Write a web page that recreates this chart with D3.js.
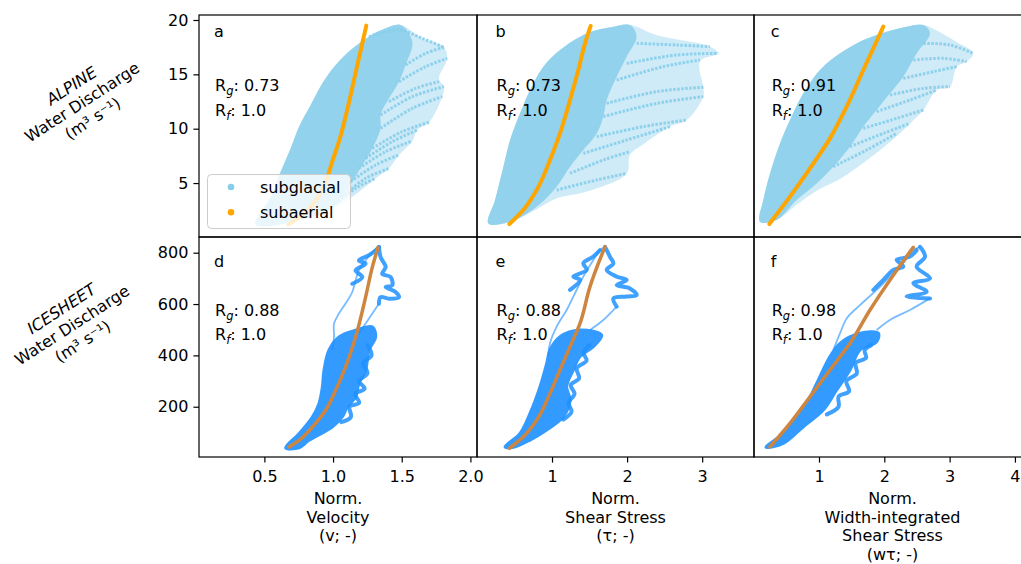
<!DOCTYPE html>
<html>
<head>
<meta charset="utf-8">
<script src="https://cdn.jsdelivr.net/npm/d3@7"></script>
<style>
  body { margin: 0; background: #fff; }
  svg { display: block; font-family: "DejaVu Sans", sans-serif; }
</style>
</head>
<body>
<svg id="chart" width="1021" height="564"></svg>
<script>
// ---- values ----
const panelLetters = ["a", "b", "c", "d", "e", "f"];
const rgValues = ["0.73", "0.73", "0.91", "0.88", "0.88", "0.98"];
const rfValues = ["1.0", "1.0", "1.0", "1.0", "1.0", "1.0"];

const velTicks = [0.5, 1.0, 1.5, 2.0];
const tauTicks = [1, 2, 3];
const wtauTicks = [1, 2, 3, 4];
const alpineTicks = [5, 10, 15, 20];
const iceTicks = [200, 400, 600, 800];

const seriesNames = ["subglacial", "subaerial"];
const rowLabels = [["ALPINE", "Water Discharge", "(m³ s⁻¹)"],
                   ["ICESHEET", "Water Discharge", "(m³ s⁻¹)"]];
const colLabels = [["Norm.", "Velocity", "(v; -)"],
                   ["Norm.", "Shear Stress", "(τ; -)"],
                   ["Norm.", "Width-integrated", "Shear Stress", "(wτ; -)"]];

// ALPINE, velocity (panel a)
const alpineVelCloud = [[0.436,1.20],[0.546,3.75],[0.618,6.05],[0.691,8.19],[0.752,10.19],[0.837,12.18],
  [0.922,14.17],[1.019,15.86],[1.128,17.24],[1.261,18.47],[1.383,19.23],[1.492,19.54],[1.577,18.01],
  [1.528,15.86],[1.480,14.33],[1.407,12.79],[1.346,11.26],[1.346,10.03],[1.286,8.19],[1.213,6.66],
  [1.140,5.13],[1.067,3.75],[0.946,2.37],[0.752,1.60],[0.558,1.08]];
const alpineVelOuter = [[0.436,1.20],[0.546,3.75],[0.618,6.05],[0.691,8.19],[0.752,10.19],[0.837,12.18],
  [0.922,14.17],[1.019,15.86],[1.128,17.24],[1.261,18.47],[1.383,19.23],[1.492,19.54],[1.649,18.31],
  [1.807,17.49],[1.831,16.47],[1.771,14.6],[1.807,13.87],[1.795,12.95],[1.698,10.59],[1.613,9.88],
  [1.577,8.87],[1.480,7.58],[1.407,6.35],[1.310,5.43],[1.140,3.75],[0.994,2.67],[0.752,1.60],[0.558,1.08]];
const alpineVelStreaks = [
  [[1.261,18.47],[1.480,19.08],[1.649,18.31],[1.807,17.49]],
  [[1.528,15.86],[1.674,16.93],[1.807,17.49]],
  [[1.480,14.33],[1.674,15.71],[1.831,16.47]],
  [[1.407,12.49],[1.601,13.71],[1.771,14.33]],
  [[1.346,11.26],[1.577,12.95],[1.807,13.87]],
  [[1.346,10.03],[1.577,11.87],[1.795,12.95]],
  [[1.286,8.19],[1.504,9.73],[1.698,10.59]],
  [[1.237,7.27],[1.431,8.81],[1.613,9.88]],
  [[1.188,6.35],[1.383,7.89],[1.577,8.87]],
  [[1.128,5.13],[1.310,6.66],[1.480,7.58]],
  [[1.067,3.75],[1.237,5.43],[1.407,6.35]],
  [[0.994,2.83],[1.164,4.51],[1.310,5.43]]];
const alpineVelFit = [[0.674,1.20],[0.776,2.06],[0.885,3.59],[0.946,5.13],[0.994,6.97],[1.050,9.11],
  [1.100,11.57],[1.155,14.63],[1.210,17.70],[1.242,19.48]];

// ALPINE, shear stress (panel b)
const alpineTauCloud = [[0.152,1.29],[0.241,3.44],[0.352,6.51],[0.441,8.96],[0.574,11.41],[0.707,13.56],
  [0.884,15.71],[1.106,17.24],[1.373,18.47],[1.595,19.08],[1.817,19.39],[2.038,19.54],[2.127,18.47],
  [1.994,16.63],[1.861,14.79],[1.728,12.64],[1.683,11.11],[1.595,9.57],[1.417,8.04],[1.240,6.51],
  [1.062,4.67],[0.796,2.83],[0.441,1.45]];
const alpineTauOuter = [[0.152,1.29],[0.241,3.44],[0.352,6.51],[0.441,8.96],[0.574,11.41],[0.707,13.56],
  [0.884,15.71],[1.106,17.24],[1.373,18.47],[1.595,19.08],[1.817,19.39],[2.038,19.54],[2.400,18.6],
  [3.104,17.55],[3.215,16.93],[2.971,16.2],[3.015,13.81],[3.015,12.95],[2.793,10.80],[2.571,10.19],
  [2.200,8.5],[2.038,7.6],[1.994,5.89],[1.500,4.3],[1.062,3.6],[0.796,2.6],[0.441,1.45]];
const alpineTauStreaks = [
  [[2.127,17.85],[2.660,17.70],[3.104,17.55]],
  [[1.994,16.01],[2.660,16.78],[3.215,16.93]],
  [[1.861,14.48],[2.482,15.71],[2.971,16.32]],
  [[1.728,12.33],[2.394,13.41],[3.015,13.81]],
  [[1.683,11.11],[2.394,12.33],[3.015,12.95]],
  [[1.595,9.27],[2.216,10.19],[2.793,10.80]],
  [[1.417,7.73],[1.994,8.96],[2.571,10.19]],
  [[1.240,5.89],[1.683,7.12],[2.038,7.89]],
  [[1.062,4.36],[1.595,5.28],[1.994,5.89]]];
const alpineTauFit = [[0.432,1.23],[0.618,2.52],[0.796,4.36],[0.973,7.12],[1.106,9.57],[1.240,12.64],
  [1.350,15.40],[1.440,17.85],[1.515,19.45]];

// ALPINE, width-integrated shear stress (panel c)
const alpineWtauCloud = [[0.096,1.45],[0.147,3.44],[0.250,5.89],[0.403,8.65],[0.556,10.80],[0.760,13.25],
  [1.015,15.40],[1.322,16.93],[1.679,18.16],[2.036,18.93],[2.342,19.39],[2.598,19.54],[2.700,18.77],
  [2.496,16.93],[2.291,14.79],[2.087,13.25],[1.883,11.72],[1.679,10.19],[1.475,8.35],[1.219,6.51],
  [0.964,4.97],[0.658,3.44],[0.351,1.60]];
const alpineWtauOuter = [[0.096,1.45],[0.147,3.44],[0.250,5.89],[0.403,8.65],[0.556,10.80],[0.760,13.25],
  [1.015,15.40],[1.322,16.93],[1.679,18.16],[2.036,18.93],[2.342,19.39],[2.598,19.54],[2.75,19.2],
  [3.100,18.0],[3.363,16.93],[3.261,16.17],[3.108,15.71],[3.006,13.87],[2.802,13.56],[2.598,11.72],
  [2.393,10.49],[2.189,9.3],[1.800,7.4],[1.300,5.3],[0.964,4.3],[0.658,3.0],[0.351,1.60]];
const alpineWtauStreaks = [
  [[2.598,17.85],[3.006,17.70],[3.363,16.93]],
  [[2.444,16.32],[2.904,16.47],[3.261,16.17]],
  [[2.291,14.63],[2.751,15.25],[3.108,15.71]],
  [[2.087,13.10],[2.598,13.71],[3.006,13.87]],
  [[1.883,11.57],[2.393,12.64],[2.802,13.56]],
  [[1.679,10.03],[2.189,10.95],[2.598,11.72]],
  [[1.475,8.35],[1.985,9.57],[2.393,10.49]],
  [[1.219,6.51],[1.730,8.04],[2.189,9.57]]];
const alpineWtauFit = [[0.239,1.23],[0.556,3.75],[0.862,6.35],[1.168,9.11],[1.424,12.03],[1.679,15.40],
  [1.985,19.39]];

// ICESHEET, velocity (panel d)
const iceVelCore = [[0.655,40],[0.752,95],[0.849,160],[0.897,212],[0.922,277],[0.934,342],[0.970,420],
  [1.043,472],[1.164,498],[1.286,511],[1.310,472],[1.261,420],[1.237,342],[1.188,290],[1.164,238],
  [1.104,199],[1.067,160],[0.994,121],[0.825,69],[0.752,40]];
const iceVelLoops = [
  [[1.334,822],[1.346,783],[1.383,744],[1.358,718],[1.419,705],[1.431,673],[1.383,666],[1.455,647],
   [1.480,627],[1.407,621],[1.346,627],[1.334,601]],
  [[1.140,679],[1.213,705],[1.164,731],[1.237,757],[1.188,770],[1.261,790],[1.310,809],[1.334,822]],
  [[1.250,440],[1.280,400],[1.220,370],[1.250,330],[1.190,300],[1.230,270],[1.160,250],[1.190,215],
   [1.120,200],[1.130,160],[1.060,140]]];
const iceVelThin = [
  [[0.994,420],[1.007,472],[1.007,524],[1.043,563],[1.091,602],[1.140,647],[1.164,692],[1.188,731],
   [1.237,770],[1.286,803],[1.334,822]],
  [[1.334,601],[1.286,563],[1.237,524],[1.188,485]]];
const iceVelFit = [[0.679,43],[0.752,69],[0.849,121],[0.946,186],[1.019,264],[1.091,355],[1.164,472],
  [1.237,627],[1.286,744],[1.327,820]];

// ICESHEET, shear stress (panel e)
const iceTauCore = [[0.374,44],[0.574,96],[0.707,174],[0.840,278],[0.929,369],[0.973,421],[1.106,473],
  [1.373,499],[1.661,479],[1.550,434],[1.373,395],[1.284,343],[1.195,278],[1.240,226],[1.151,161],
  [0.929,109],[0.707,70],[0.485,42]];
const iceTauLoops = [
  [[1.706,823],[1.772,784],[1.817,758],[1.728,733],[1.861,707],[1.994,694],[1.861,674],[2.038,661],
   [2.127,635],[1.994,629],[1.817,622],[1.861,590]],
  [[1.240,655],[1.373,694],[1.284,707],[1.462,733],[1.417,759],[1.550,785],[1.639,810]],
  [[1.500,440],[1.420,410],[1.460,380],[1.330,350],[1.360,310],[1.250,285],[1.300,250],[1.220,215],
   [1.260,180],[1.150,150]]];
const iceTauThin = [
  [[0.951,395],[0.973,447],[1.062,512],[1.195,577],[1.284,629],[1.417,707],[1.550,772],[1.639,810],
   [1.706,823]],
  [[1.861,590],[1.683,538],[1.506,499]]];
const iceTauFit = [[0.432,38],[0.618,83],[0.796,148],[0.973,252],[1.106,343],[1.240,434],[1.373,525],
  [1.506,668],[1.617,758],[1.706,823]];

// ICESHEET, width-integrated shear stress (panel f)
const iceWtauCore = [[0.188,42],[0.454,96],[0.760,187],[0.964,291],[1.168,395],[1.322,447],[1.628,486],
  [1.909,486],[1.883,453],[1.628,421],[1.475,343],[1.270,265],[1.066,187],[0.760,122],[0.454,57]];
const iceWtauLoops = [
  [[2.547,823],[2.623,784],[2.495,746],[2.700,700],[2.445,681],[2.649,648],[2.342,629],[2.700,622]],
  [[1.832,655],[1.985,694],[2.138,733],[2.291,746],[2.189,772],[2.393,785],[2.495,810]],
  [[1.800,440],[1.700,420],[1.720,390],[1.560,370],[1.580,330],[1.420,300],[1.460,260],[1.300,240],
   [1.300,200],[1.120,170]]];
const iceWtauThin = [
  [[1.219,421],[1.322,486],[1.424,544],[1.628,596],[1.883,655],[2.087,707],[2.291,759],[2.444,810],
   [2.547,823]],
  [[2.700,622],[2.393,577],[2.087,538],[1.883,499]]];
const iceWtauFit = [[0.250,44],[0.556,135],[0.862,239],[1.168,343],[1.475,447],[1.781,577],[2.087,694],
  [2.444,821]];

// ---- layout ----
const svg = d3.select("#chart");
const defs = svg.append("defs");

const cols = [
  { x0: 199, x1: 477, dom: [0.024, 2.048], ticks: velTicks, fmt: d3.format(".1f"), textDx: 16 },
  { x0: 477, x1: 754, dom: [0.001, 3.69], ticks: tauTicks, fmt: d3.format("d"), textDx: 19.5 },
  { x0: 754, x1: 1031, dom: [0.005, 4.246], ticks: wtauTicks, fmt: d3.format("d"), textDx: 17.7 }
];
const rows = [
  { y0: 15, y1: 237, dom: [0.037, 20.46], ticks: alpineTicks, letterY: 36.7, rgY: 91, rfY: 115.7,
    cloud: "#87ceeb", fit: "#ffa500", labelAt: [82, 102] },
  { y0: 237, y1: 457, dom: [4.1, 861.2], ticks: iceTicks, letterY: 267, rgY: 316.3, rfY: 340.3,
    cloud: "#1e90ff", fit: "#cd853f", labelAt: [72, 325] }
];

const topClouds = [alpineVelCloud, alpineTauCloud, alpineWtauCloud];
const topOuter = [alpineVelOuter, alpineTauOuter, alpineWtauOuter];
const topStreaks = [alpineVelStreaks, alpineTauStreaks, alpineWtauStreaks];
const topFits = [alpineVelFit, alpineTauFit, alpineWtauFit];
const botCores = [iceVelCore, iceTauCore, iceWtauCore];
const botLoops = [iceVelLoops, iceTauLoops, iceWtauLoops];
const botThin = [iceVelThin, iceTauThin, iceWtauThin];
const botFits = [iceVelFit, iceTauFit, iceWtauFit];

function styleAxis(g) {
  g.select(".domain").remove();
  g.attr("font-family", null).attr("font-size", null);
  g.selectAll(".tick line").attr("stroke", "#000").attr("stroke-width", 1.2);
  g.selectAll(".tick text").attr("fill", "#000").style("font-size", "16px");
}

function drawPanel(i) {
  const row = Math.floor(i / 3), col = i % 3;
  const c = cols[col], r = rows[row];
  const x = d3.scaleLinear().domain(c.dom).range([c.x0, c.x1]);
  const y = d3.scaleLinear().domain(r.dom).range([r.y1, r.y0]);

  defs.append("clipPath").attr("id", "clip" + i)
    .append("rect").attr("x", c.x0).attr("y", r.y0)
    .attr("width", c.x1 - c.x0).attr("height", r.y1 - r.y0);
  const g = svg.append("g").attr("clip-path", `url(#clip${i})`);

  const open = d3.line().x(d => x(d[0])).y(d => y(d[1])).curve(d3.curveCatmullRom.alpha(0.5));
  const closed = d3.line().x(d => x(d[0])).y(d => y(d[1])).curve(d3.curveCatmullRomClosed.alpha(0.5));
  const fitLine = d3.line().x(d => x(d[0])).y(d => y(d[1])).curve(d3.curveMonotoneY);

  if (row === 0) {
    g.append("path").attr("d", closed(topOuter[col]))
      .attr("fill", r.cloud).attr("opacity", 0.4);
    g.append("path").attr("d", closed(topClouds[col]))
      .attr("fill", r.cloud).attr("opacity", 0.85);
    g.selectAll(".streak").data(topStreaks[col]).join("path")
      .attr("class", "streak")
      .attr("d", open)
      .attr("fill", "none")
      .attr("stroke", r.cloud)
      .attr("stroke-width", 3)
      .attr("stroke-dasharray", "2.5 1.5")
      .attr("opacity", 0.9);
    g.append("path").attr("d", fitLine(topFits[col]))
      .attr("fill", "none").attr("stroke", r.fit)
      .attr("stroke-width", 4).attr("stroke-linecap", "round");
  } else {
    g.append("path").attr("d", closed(botCores[col]))
      .attr("fill", r.cloud).attr("stroke", r.cloud)
      .attr("stroke-width", 3).attr("stroke-linejoin", "round").attr("opacity", 0.9);
    g.selectAll(".thin").data(botThin[col]).join("path")
      .attr("class", "thin")
      .attr("d", open).attr("fill", "none")
      .attr("stroke", r.cloud).attr("stroke-width", 1.8).attr("opacity", 0.6);
    g.selectAll(".loop").data(botLoops[col]).join("path")
      .attr("class", "loop")
      .attr("d", open).attr("fill", "none")
      .attr("stroke", r.cloud).attr("stroke-width", 4)
      .attr("stroke-linecap", "round").attr("stroke-linejoin", "round").attr("opacity", 0.85);
    g.append("path").attr("d", fitLine(botFits[col]))
      .attr("fill", "none").attr("stroke", r.fit)
      .attr("stroke-width", 3.5).attr("stroke-linecap", "round");
  }

  // panel letter and correlation texts
  const tx = c.x0 + c.textDx;
  svg.append("text").attr("x", tx - 1).attr("y", r.letterY)
    .style("font-size", "16px").text(panelLetters[i]);
  [["g", rgValues[i], r.rgY], ["f", rfValues[i], r.rfY]].forEach(([sub, val, yy]) => {
    const t = svg.append("text").attr("x", tx).attr("y", yy).style("font-size", "16px");
    t.append("tspan").text("R");
    t.append("tspan").attr("dy", 4).style("font-size", "11.5px").style("font-style", "italic").text(sub);
    t.append("tspan").attr("dy", -4).text(": " + val);
  });

  // spines
  svg.append("rect").attr("x", c.x0).attr("y", r.y0)
    .attr("width", c.x1 - c.x0).attr("height", r.y1 - r.y0)
    .attr("fill", "none").attr("stroke", "#000").attr("stroke-width", 1.2);

  if (col === 0) {
    svg.append("g").attr("transform", `translate(${c.x0},0)`)
      .call(d3.axisLeft(y).tickValues(r.ticks).tickFormat(d3.format("d")).tickSize(5.6).tickPadding(5))
      .call(styleAxis);
  }
  if (row === 1) {
    svg.append("g").attr("transform", `translate(0,${r.y1})`)
      .call(d3.axisBottom(x).tickValues(c.ticks).tickFormat(c.fmt).tickSize(5.6).tickPadding(7.7))
      .call(styleAxis);
  }
}

d3.range(6).forEach(drawPanel);

// legend in panel a
const legend = svg.append("g");
legend.append("rect").attr("x", 207.5).attr("y", 174.5).attr("width", 143).attr("height", 54)
  .attr("rx", 4).attr("fill", "#fff").attr("fill-opacity", 0.8)
  .attr("stroke", "#cccccc").attr("stroke-width", 1);
[rows[0].cloud, rows[0].fit].forEach((col, k) => {
  legend.append("circle").attr("cx", 231).attr("cy", 187 + k * 25.3).attr("r", 3.3).attr("fill", col);
  legend.append("text").attr("x", 260).attr("y", 192.5 + k * 25.3)
    .style("font-size", "16px").text(seriesNames[k]);
});

// rotated row labels
rowLabels.forEach((lines, k) => {
  const [cx, cy] = rows[k].labelAt;
  const g = svg.append("g").attr("transform", `translate(${cx},${cy}) rotate(-33)`);
  lines.forEach((s, j) => {
    g.append("text").attr("x", 0).attr("y", (j - 1) * 19.5).attr("dy", "0.36em")
      .attr("text-anchor", "middle").style("font-size", "16px")
      .style("font-style", j === 0 ? "italic" : "normal").text(s);
  });
});

// column labels
colLabels.forEach((lines, k) => {
  const cx = (cols[k].x0 + cols[k].x1) / 2;
  lines.forEach((s, j) => {
    svg.append("text").attr("x", cx).attr("y", 504 + j * 18.6)
      .attr("text-anchor", "middle").style("font-size", "16px").text(s);
  });
});
</script>
</body>
</html>
